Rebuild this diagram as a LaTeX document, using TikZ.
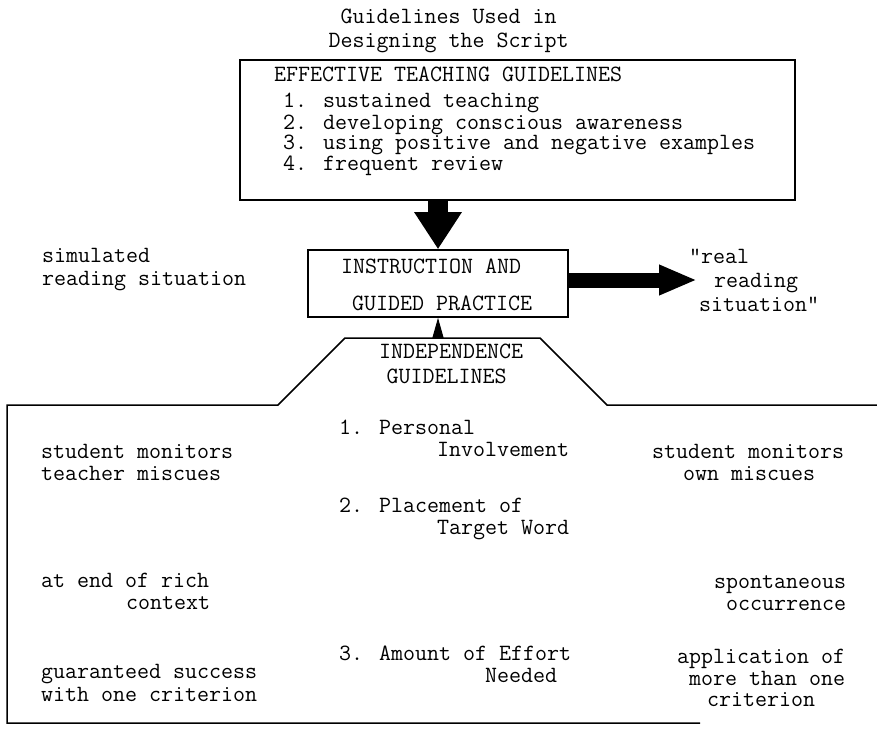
\documentclass[tikz,border=0pt]{standalone}
\usetikzlibrary{arrows.meta}
\newcommand\tw{\fontsize{23.3}{20}\selectfont\ttfamily}
\newcommand\twl{\fontsize{23.3}{20.5}\selectfont\ttfamily}
\tikzset{
  tx/.style={anchor=base west, inner sep=0pt, font=\tw},
  txc/.style={anchor=base, inner sep=0pt, font=\tw},
  listtx/.style={anchor=north west, inner sep=0pt, align=left, font=\twl},
  boxframe/.style={draw, line width=1.6pt, inner sep=0pt},
  outline/.style={line width=1.5pt, line join=miter},
  fatdown/.style={line width=20pt, -{Triangle[width=45pt,length=37pt]}},
  fatright/.style={line width=15pt, -{Triangle[width=28pt,length=38pt]}},
  smallup/.style={line width=1pt, -{Triangle[width=11pt,length=20pt]}}
}
\begin{document}
\begin{tikzpicture}[x=1pt,y=-1pt]
\useasboundingbox (0,0) rectangle (877,729);

% title
\node[txc] (t1) at (448.5,23) {Guidelines Used in};
\node[txc] (t2) at (448.5,47) {Designing the Script};

% effective teaching guidelines box
\node[boxframe, minimum width=555pt, minimum height=140pt] (eff) at (517.5,130) {};
\node[tx] (effh) at (274,81) {EFFECTIVE TEACHING GUIDELINES};
\node[listtx] (elist) at (283,92.65) {\strut 1. sustained teaching\\
2. developing conscious awareness\\
3. using positive and negative examples\\
4. frequent review};

% instruction box
\node[boxframe, minimum width=260pt, minimum height=67pt] (instr) at (438,283.5) {};
\node[tx] (i1) at (341,273) {INSTRUCTION AND};
\node[tx] (i2) at (352,310) {GUIDED PRACTICE};

% side labels
\node[tx] (s1) at (42,262) {simulated};
\node[tx] (s2) at (42,285) {reading situation};
\node[tx] (r1) at (689,263) {"real};
\node[tx] (r2) at (714,287) {reading};
\node[tx] (r3) at (699,311) {situation"};

% arrows
\coordinate (tipR) at (697,280);
\coordinate (tt) at (438,338);
\draw[fatdown] (eff.south -| instr.north) -- (instr.north);
\draw[fatright] (instr.east |- tipR) -- (tipR);
\draw[smallup] (tt) -- (instr.south);

% independence outline
\coordinate (p1) at (877,405);
\coordinate (p2) at (607,405);
\coordinate (p3) at (540,338);
\coordinate (p4) at (345,338);
\coordinate (p5) at (278,405);
\coordinate (p6) at (7,405);
\coordinate (p7) at (7,723);
\coordinate (p8) at (700,723);
\draw[outline] (p1) -- (p2) -- (p3) -- (p4) -- (p5) -- (p6) -- (p7) -- (p8);

\node[txc] (g1) at (451,358) {INDEPENDENCE};
\node[txc] (g2) at (446.5,383) {GUIDELINES};

% middle column
\node[tx] (m1a) at (339,434) {1. Personal};
\node[tx] (m1b) at (437,456) {Involvement};
\node[tx] (m2a) at (339,512) {2. Placement of};
\node[tx] (m2b) at (437,534) {Target Word};
\node[tx] (m3a) at (339,660) {3. Amount of Effort};
\node[tx] (m3b) at (485,682) {Needed};

% left column
\node[tx] (l1a) at (41,458) {student monitors};
\node[tx] (l1b) at (41,480) {teacher miscues};
\node[tx] (l2a) at (41,587) {at end of rich};
\node[tx] (l2b) at (126,609) {context};
\node[tx] (l3a) at (41,678) {guaranteed success};
\node[tx] (l3b) at (41,701) {with one criterion};

% right column
\node[tx] (q1a) at (652,458) {student monitors};
\node[tx] (q1b) at (683,480) {own miscues};
\node[tx] (q2a) at (714,588) {spontaneous};
\node[tx] (q2b) at (726,610) {occurrence};
\node[tx] (q3a) at (677,663) {application of};
\node[tx] (q3b) at (689,685) {more than one};
\node[tx] (q3c) at (707,706) {criterion};
\end{tikzpicture}
\end{document}
